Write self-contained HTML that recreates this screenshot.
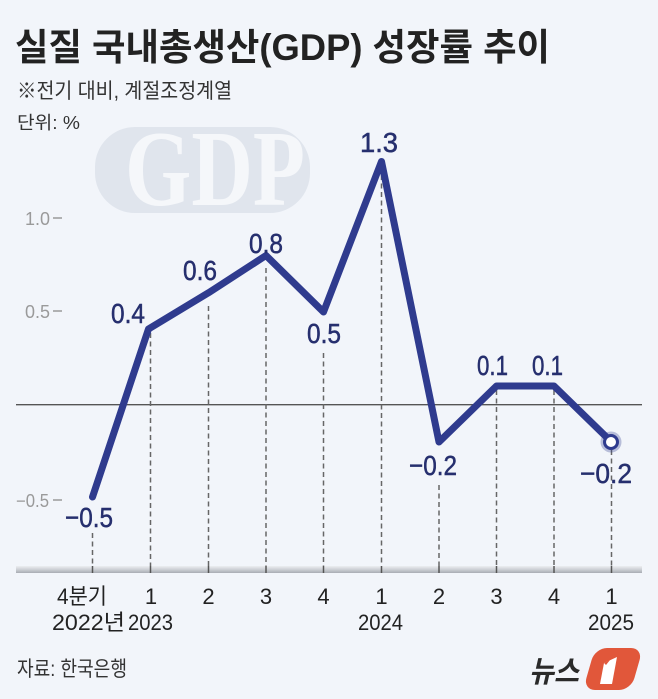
<!DOCTYPE html>
<html><head><meta charset="utf-8">
<style>
html,body{margin:0;padding:0;background:#f2f5fa;}
svg{display:block;}
</style></head>
<body>
<svg width="658" height="699" viewBox="0 0 658 699" xmlns="http://www.w3.org/2000/svg">
<defs>
<linearGradient id="bar" x1="0" y1="0" x2="0" y2="1">
<stop offset="0" stop-color="#eceef1"/>
<stop offset="0.5" stop-color="#cdd0d5"/>
<stop offset="1" stop-color="#a8acb3"/>
</linearGradient>
</defs>
<rect width="658" height="699" fill="#f2f5fa"/>

<!-- Title -->
<text x="15" y="60" font-family="'Liberation Sans','Noto Sans CJK KR',sans-serif" font-weight="bold" font-size="37" fill="#222" textLength="535" lengthAdjust="spacingAndGlyphs">실질 국내총생산(GDP) 성장률 추이</text>
<text x="17" y="98" font-family="'Liberation Sans','Noto Sans CJK KR',sans-serif" font-size="21" fill="#333" textLength="215" lengthAdjust="spacingAndGlyphs">※전기 대비, 계절조정계열</text>
<text x="17" y="129" font-family="'Liberation Sans','Noto Sans CJK KR',sans-serif" font-size="18" fill="#333" textLength="63" lengthAdjust="spacingAndGlyphs">단위: %</text>

<!-- GDP watermark -->
<rect x="95" y="127" width="215" height="86" rx="40" fill="#e0e5ed"/>
<text x="125" y="205" font-family="'Liberation Serif',serif" font-weight="bold" font-size="108" fill="#f5f7fa" textLength="180" lengthAdjust="spacingAndGlyphs">GDP</text>

<!-- Y ticks -->
<g font-family="'Liberation Sans',sans-serif" font-size="18" fill="#9a9a9a" text-anchor="end">
<text x="50" y="225" textLength="25" lengthAdjust="spacingAndGlyphs">1.0</text>
<text x="50" y="318" textLength="25" lengthAdjust="spacingAndGlyphs">0.5</text>
<text x="49" y="507" textLength="33" lengthAdjust="spacingAndGlyphs">−0.5</text>
</g>
<g stroke="#9a9a9a" stroke-width="1.5">
<line x1="53" y1="218" x2="62" y2="218"/>
<line x1="53" y1="311" x2="62" y2="311"/>
<line x1="53" y1="500" x2="62" y2="500"/>
</g>

<!-- Zero line -->
<line x1="16" y1="404.7" x2="642" y2="404.7" stroke="#555" stroke-width="1.3"/>

<!-- Dashed guide lines -->
<g stroke="#666" stroke-width="1.5" stroke-dasharray="5,3.5">
<line x1="92.5" y1="533" x2="92.5" y2="570"/>
<line x1="150.5" y1="333" x2="150.5" y2="570"/>
<line x1="208.5" y1="306" x2="208.5" y2="570"/>
<line x1="266" y1="268" x2="266" y2="570"/>
<line x1="323.5" y1="353" x2="323.5" y2="570"/>
<line x1="381.5" y1="175" x2="381.5" y2="570"/>
<line x1="439" y1="485" x2="439" y2="570"/>
<line x1="496.5" y1="390" x2="496.5" y2="570"/>
<line x1="554" y1="390" x2="554" y2="570"/>
<line x1="611.5" y1="450" x2="611.5" y2="570"/>
</g>

<!-- Axis bar -->
<rect x="16" y="566" width="626" height="7" fill="url(#bar)"/>
<g stroke="#555" stroke-width="1.5">
<line x1="92.5" y1="566" x2="92.5" y2="573"/>
<line x1="150.5" y1="566" x2="150.5" y2="573"/>
<line x1="208.5" y1="566" x2="208.5" y2="573"/>
<line x1="266" y1="566" x2="266" y2="573"/>
<line x1="323.5" y1="566" x2="323.5" y2="573"/>
<line x1="381.5" y1="566" x2="381.5" y2="573"/>
<line x1="439" y1="566" x2="439" y2="573"/>
<line x1="496.5" y1="566" x2="496.5" y2="573"/>
<line x1="554" y1="566" x2="554" y2="573"/>
<line x1="611.5" y1="566" x2="611.5" y2="573"/>
</g>

<!-- Data line -->
<polyline points="92.5,497 148.5,329 208.5,292.8 266,255.5 323.5,312 381.5,161.5 439,442 496.5,386 554,386 611.5,442" fill="none" stroke="#2f3b8e" stroke-width="7" stroke-linejoin="round" stroke-linecap="round"/>
<circle cx="611" cy="442" r="10.5" fill="#2f3b8e" fill-opacity="0.3"/>
<circle cx="611" cy="442" r="6.5" fill="#fff" stroke="#2f3b8e" stroke-width="3"/>

<!-- Data labels -->
<g font-family="'Liberation Sans',sans-serif" font-size="28" fill="#262f6e" stroke="#262f6e" stroke-width="0.5">
<text x="65" y="527" textLength="48" lengthAdjust="spacingAndGlyphs">−0.5</text>
<text x="111" y="323" textLength="34" lengthAdjust="spacingAndGlyphs">0.4</text>
<text x="183" y="280" textLength="34" lengthAdjust="spacingAndGlyphs">0.6</text>
<text x="249" y="253" textLength="34" lengthAdjust="spacingAndGlyphs">0.8</text>
<text x="307" y="343" textLength="34" lengthAdjust="spacingAndGlyphs">0.5</text>
<text x="360" y="152" textLength="38" lengthAdjust="spacingAndGlyphs">1.3</text>
<text x="409" y="475" textLength="48" lengthAdjust="spacingAndGlyphs">−0.2</text>
<text x="477" y="375" textLength="31" lengthAdjust="spacingAndGlyphs">0.1</text>
<text x="532" y="375" textLength="31" lengthAdjust="spacingAndGlyphs">0.1</text>
<text x="580" y="483" textLength="52" lengthAdjust="spacingAndGlyphs">−0.2</text>
</g>

<!-- X labels -->
<text x="57" y="604" font-family="'Liberation Sans','Noto Sans CJK KR',sans-serif" font-size="22" fill="#222" textLength="50" lengthAdjust="spacingAndGlyphs">4분기</text>
<text x="52" y="630" font-family="'Liberation Sans','Noto Sans CJK KR',sans-serif" font-size="22" fill="#222" textLength="73" lengthAdjust="spacingAndGlyphs">2022년</text>
<text x="151" y="604" font-family="'Liberation Sans',sans-serif" font-size="22" fill="#222" text-anchor="middle">1</text>
<text x="208.5" y="604" font-family="'Liberation Sans',sans-serif" font-size="22" fill="#222" text-anchor="middle">2</text>
<text x="266" y="604" font-family="'Liberation Sans',sans-serif" font-size="22" fill="#222" text-anchor="middle">3</text>
<text x="323.5" y="604" font-family="'Liberation Sans',sans-serif" font-size="22" fill="#222" text-anchor="middle">4</text>
<text x="381.5" y="604" font-family="'Liberation Sans',sans-serif" font-size="22" fill="#222" text-anchor="middle">1</text>
<text x="439" y="604" font-family="'Liberation Sans',sans-serif" font-size="22" fill="#222" text-anchor="middle">2</text>
<text x="496.5" y="604" font-family="'Liberation Sans',sans-serif" font-size="22" fill="#222" text-anchor="middle">3</text>
<text x="554" y="604" font-family="'Liberation Sans',sans-serif" font-size="22" fill="#222" text-anchor="middle">4</text>
<text x="611.5" y="604" font-family="'Liberation Sans',sans-serif" font-size="22" fill="#222" text-anchor="middle">1</text>
<text x="128" y="630" font-family="'Liberation Sans',sans-serif" font-size="22" fill="#222" textLength="45" lengthAdjust="spacingAndGlyphs">2023</text>
<text x="358" y="630" font-family="'Liberation Sans',sans-serif" font-size="22" fill="#222" textLength="45" lengthAdjust="spacingAndGlyphs">2024</text>
<text x="588" y="630" font-family="'Liberation Sans',sans-serif" font-size="22" fill="#222" textLength="46" lengthAdjust="spacingAndGlyphs">2025</text>

<!-- Source -->
<text x="17" y="676" font-family="'Liberation Sans','Noto Sans CJK KR',sans-serif" font-size="21" fill="#333" textLength="110" lengthAdjust="spacingAndGlyphs">자료: 한국은행</text>

<!-- Logo -->
<text x="529" y="682" font-family="'Liberation Sans','Noto Sans CJK KR',sans-serif" font-weight="bold" font-style="italic" font-size="30" fill="#2a2a2a" textLength="50" lengthAdjust="spacingAndGlyphs">뉴스</text>
<g transform="translate(612,669) skewX(-16)">
<rect x="-23" y="-21" width="48" height="42" rx="12" fill="#e1573a"/>
</g>
<polygon points="604,663 617,657 612,684 600,684" fill="#fff"/>
<polygon points="604,663 610,660 606,665" fill="#e1573a"/>
</svg>
</body></html>
